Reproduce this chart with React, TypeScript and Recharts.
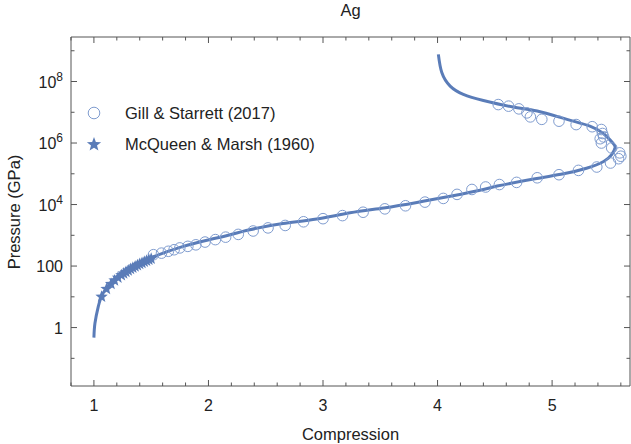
import { ComposedChart, Line, Scatter, XAxis, YAxis } from "recharts";

// theory curve (compression, pressure in GPa), in drawing order
const curveX = [1.0, 1.009, 1.038, 1.08, 1.17, 1.286, 1.4, 1.49, 1.78, 2.07, 2.36, 2.65, 2.945, 3.236, 3.53, 3.82, 4.11, 4.4, 4.52, 4.84, 5.1, 5.3, 5.45, 5.52, 5.55, 5.53, 5.45, 5.33, 5.13, 4.87, 4.66, 4.4, 4.225, 4.11, 4.037, 4.007];
const curveP = [0.47, 1.38, 4.8, 13.2, 35.5, 76, 126, 182, 437, 813, 1510, 2400, 3390, 5370, 7760, 11700, 18600, 30900, 39800, 67600, 100000, 151000, 251000, 417000, 708000, 1000000, 2000000, 3550000, 5890000, 11000000, 14800000, 24000000, 38000000, 70800000, 195000000, 759000000];

// Gill & Starrett (2017)
const gillX = [1.52, 1.59, 1.65, 1.7, 1.75, 1.82, 1.89, 1.97, 2.06, 2.15, 2.26, 2.39, 2.52, 2.67, 2.83, 3.0, 3.17, 3.35, 3.54, 3.72, 3.89, 4.05, 4.17, 4.3, 4.42, 4.54, 4.69, 4.87, 5.06, 5.23, 5.39, 5.51, 5.58, 5.6, 5.59, 5.52, 5.43, 5.42, 5.45, 5.44, 5.43, 5.35, 5.21, 5.06, 4.91, 4.81, 4.78, 4.71, 4.62, 4.53];
const gillP = [234, 263, 302, 339, 389, 437, 490, 603, 724, 871, 1070, 1380, 1740, 2090, 2750, 3470, 4370, 5620, 7240, 9120, 12000, 15800, 21400, 30900, 37200, 44700, 52500, 74100, 93300, 129000, 166000, 224000, 309000, 372000, 479000, 692000, 1000000, 1380000, 1580000, 2040000, 2750000, 3390000, 3980000, 5130000, 5890000, 7080000, 9550000, 12900000, 15800000, 17800000];

// McQueen & Marsh (1960)
const mcqX = [1.067, 1.11, 1.15, 1.18, 1.21, 1.24, 1.26, 1.28, 1.3, 1.32, 1.34, 1.36, 1.38, 1.4, 1.42, 1.44, 1.46, 1.48, 1.5];
const mcqP = [10, 18, 26, 34, 42, 50, 57, 64, 72, 80, 88, 97, 106, 116, 126, 137, 148, 160, 172];

const xTicks = [0.8, 1, 1.2, 1.4, 1.6, 1.8, 2, 2.2, 2.4, 2.6, 2.8, 3, 3.2, 3.4, 3.6, 3.8, 4, 4.2, 4.4, 4.6, 4.8, 5, 5.2, 5.4, 5.6];
const yTicks = [0.1, 1, 10, 100, 1e3, 1e4, 1e5, 1e6, 1e7, 1e8, 1e9];

const curve = curveX.map((x, i) => ({ x, p: curveP[i] }));
const gill = gillX.map((x, i) => ({ x, p: gillP[i] }));
const mcq = mcqX.map((x, i) => ({ x, p: mcqP[i] }));

const BLUE = "#5a7cb8";
const LIGHT = "#7f9ccf";
const FONT = "'Liberation Sans', Arial, sans-serif";
const AXIS = "#555";
const TXT = "#222";

function starPath(cx: number, cy: number, r: number) {
  let d = "";
  for (let i = 0; i < 10; i++) {
    const rr = i % 2 === 0 ? r : r * 0.42;
    const a = -Math.PI / 2 + (i * Math.PI) / 5;
    d += (i === 0 ? "M" : "L") + (cx + rr * Math.cos(a)).toFixed(2) + "," + (cy + rr * Math.sin(a)).toFixed(2);
  }
  return d + "Z";
}

const Circle = (props: any) => (
  <circle cx={props.cx} cy={props.cy} r={5.3} fill="none" stroke={LIGHT} strokeWidth={1} />
);
const Star = (props: any) => <path d={starPath(props.cx, props.cy, 6.5)} fill={BLUE} />;

const isMajorX = (v: number) => Math.abs(v - Math.round(v)) < 1e-6;
const isMajorY = (v: number) => Math.round(Math.log10(v)) % 2 === 0;

const BottomTick = ({ x, y, payload }: any) => {
  const major = isMajorX(payload.value);
  return (
    <g>
      <line x1={x} y1={y} x2={x} y2={y - (major ? 6 : 3.5)} stroke={AXIS} />
      {major && (
        <text x={x} y={y + 25} textAnchor="middle" fontSize={16} fill={TXT} fontFamily={FONT}>
          {Math.round(payload.value)}
        </text>
      )}
    </g>
  );
};

const TopTick = ({ x, y, payload }: any) => {
  const major = isMajorX(payload.value);
  return <line x1={x} y1={y} x2={x} y2={y + (major ? 6 : 3.5)} stroke={AXIS} />;
};

const LeftTick = ({ x, y, payload }: any) => {
  const v = payload.value;
  const major = isMajorY(v);
  const e = Math.round(Math.log10(v));
  return (
    <g>
      <line x1={x} y1={y} x2={x + (major ? 6 : 3.5)} y2={y} stroke={AXIS} />
      {major && (
        <text x={x - 8} y={y + 6} textAnchor="end" fontSize={16} fill={TXT} fontFamily={FONT}>
          {e <= 2 ? (
            String(Math.round(v))
          ) : (
            <>
              <tspan>10</tspan>
              <tspan dy={-7} fontSize={12}>{e}</tspan>
            </>
          )}
        </text>
      )}
    </g>
  );
};

const RightTick = ({ x, y, payload }: any) => {
  const major = isMajorY(payload.value);
  return <line x1={x} y1={y} x2={x - (major ? 6 : 3.5)} y2={y} stroke={AXIS} />;
};

const YLabel = () => (
  <text x={20} y={212} transform="rotate(-90 20 212)" textAnchor="middle" fontSize={16.5} fill={TXT} fontFamily={FONT}>
    Pressure (GPa)
  </text>
);

const LegendBox = () => (
  <div style={{ position: "absolute", left: 84, top: 97, fontFamily: FONT, fontSize: 16.5, color: TXT }}>
    <div style={{ display: "flex", alignItems: "center", height: 32 }}>
      <svg width={22} height={20}>
        <circle cx={10} cy={10} r={5.8} fill="none" stroke={LIGHT} strokeWidth={1} />
      </svg>
      <span style={{ marginLeft: 19 }}>Gill &amp; Starrett (2017)</span>
    </div>
    <div style={{ display: "flex", alignItems: "center", height: 30 }}>
      <svg width={22} height={20}>
        <path d={starPath(10, 10.5, 7.5)} fill={BLUE} />
      </svg>
      <span style={{ marginLeft: 19 }}>McQueen &amp; Marsh (1960)</span>
    </div>
  </div>
);

export default function App() {
  return (
    <div style={{ position: "absolute", left: 0, top: 0, width: 631, height: 444, background: "#fff" }}>
      <ComposedChart width={631} height={444} margin={{ top: 0, right: 0, bottom: 0, left: 0 }}>
        <XAxis
          dataKey="x"
          type="number"
          domain={[0.8, 5.68]}
          ticks={xTicks}
          interval={0}
          allowDataOverflow
          tickSize={0}
          tickMargin={0}
          tick={<BottomTick />}
          stroke={AXIS}
          height={58}
          label={{ value: "Compression", position: "insideBottom", offset: 4, fontSize: 16.5, fill: TXT, fontFamily: FONT }}
        />
        <XAxis
          xAxisId="top"
          orientation="top"
          dataKey="x"
          type="number"
          domain={[0.8, 5.68]}
          ticks={xTicks}
          interval={0}
          allowDataOverflow
          tickSize={0}
          tickMargin={0}
          tick={<TopTick />}
          stroke={AXIS}
          height={37}
          label={{ value: "Ag", position: "insideTop", offset: 4, fontSize: 16.5, fill: TXT, fontFamily: FONT }}
        />
        <YAxis
          dataKey="p"
          type="number"
          scale="log"
          domain={[0.0126, 2.8e9]}
          ticks={yTicks}
          interval={0}
          allowDataOverflow
          tickSize={0}
          tickMargin={0}
          tick={<LeftTick />}
          stroke={AXIS}
          width={71}
          label={<YLabel />}
        />
        <YAxis
          yAxisId="right"
          orientation="right"
          type="number"
          scale="log"
          domain={[0.0126, 2.8e9]}
          ticks={yTicks}
          interval={0}
          allowDataOverflow
          tickSize={0}
          tickMargin={0}
          tick={<RightTick />}
          stroke={AXIS}
          width={1}
        />
        <Line
          data={curve}
          dataKey="p"
          type="natural"
          stroke={BLUE}
          strokeWidth={3}
          dot={false}
          isAnimationActive={false}
          legendType="none"
        />
        <Scatter data={gill} dataKey="p" shape={<Circle />} isAnimationActive={false} />
        <Scatter data={mcq} dataKey="p" shape={<Star />} isAnimationActive={false} />
      </ComposedChart>
      <LegendBox />
    </div>
  );
}
